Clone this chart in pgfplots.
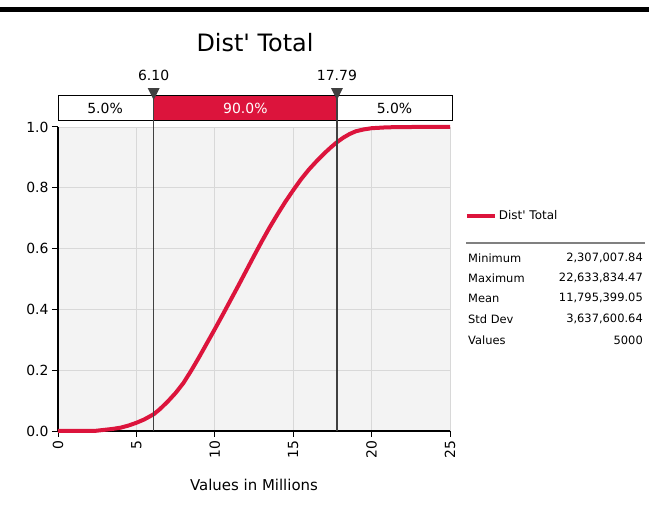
\documentclass[border=0pt]{standalone}
\usepackage{pgfplots}
\pgfplotsset{compat=1.18}
\usepackage{fontspec}
\setmainfont{DejaVu Sans}[Ligatures=TeXOff]
\definecolor{rred}{RGB}{220,20,60}
\definecolor{bgc}{HTML}{F3F3F3}
\definecolor{gridc}{HTML}{D8D8D8}
\definecolor{vline}{HTML}{404040}
\begin{document}
\begin{tikzpicture}[x=1bp,y=1bp]
\useasboundingbox (-58,-77) rectangle (591,431);
\fill[black] (-58,419) rectangle (591,423.5);
\node[font=\fontsize{24}{27}\selectfont] at (197,388) {Dist' Total};
\begin{axis}[
  at={(0,0)}, anchor=south west,
  scale only axis, width=392bp, height=304bp,
  xmin=0, xmax=25, ymin=0, ymax=1,
  axis background/.style={fill=bgc},
  grid=major, major grid style={gridc, line width=0.8pt},
  axis x line*=bottom, axis y line*=left,
  axis line style={black, line width=1.2pt},
  xtick={0,5,10,15,20,25}, ytick={0,0.2,0.4,0.6,0.8,1.0},
  yticklabel style={/pgf/number format/.cd,fixed,fixed zerofill,precision=1},
  tick align=outside, major tick length=6bp,
  tick style={black, line width=1pt},
  xticklabel style={rotate=90, anchor=east},
  /pgf/number format/assume math mode=true,
  tick label style={font=\fontsize{14}{16}\selectfont},
  xlabel={Values in Millions},
  xlabel style={font=\fontsize{15}{17}\selectfont, at={(rel axis cs:0.5,0)}, anchor=center, yshift=-54bp},
  clip=false,
  legend style={at={(rel axis cs:1.03,0.707)}, anchor=west, draw=none, fill=none, font=\fontsize{12}{14}\selectfont},
  legend image code/.code={\draw[rred, line width=4bp] (0,0) -- (28bp,0);},
]
\addplot[rred, line width=4bp, line join=round] coordinates {
(0,0) (2.3,0) (3,0.004) (3.5,0.007) (4,0.011) (4.5,0.018) (5,0.027) (5.5,0.038)
(6.1,0.055) (6.5,0.072) (7,0.097) (7.5,0.125) (8,0.158) (8.5,0.199) (9,0.243)
(9.5,0.289) (10,0.335) (10.5,0.382) (11,0.43) (11.5,0.478) (12,0.527)
(12.5,0.576) (13,0.624) (13.5,0.67) (14,0.713) (14.5,0.754) (15,0.792)
(15.5,0.828) (16,0.86) (16.5,0.888) (17,0.914) (17.4,0.933) (17.79,0.95)
(18.2,0.965) (18.6,0.977) (19,0.986) (19.5,0.992) (20,0.996) (21,0.999)
(22.6,1) (25,1)};
\addlegendentry{Dist' Total}
% band
\draw[black, fill=white, line width=1pt] (axis cs:0,1.023) rectangle (axis cs:25.13,1.102);
\fill[rred] (axis cs:6.10,1.023) rectangle (axis cs:17.79,1.102);
\draw[black, line width=1pt] (axis cs:0,1.023) rectangle (axis cs:25.13,1.102);
\draw[vline, line width=1.3pt] (axis cs:6.10,0) -- (axis cs:6.10,1.102);
\draw[vline, line width=1.3pt] (axis cs:17.79,0) -- (axis cs:17.79,1.102);
\fill[vline] (axis cs:5.72,1.128) -- (axis cs:6.48,1.128) -- (axis cs:6.10,1.089) -- cycle;
\fill[vline] (axis cs:17.41,1.128) -- (axis cs:18.17,1.128) -- (axis cs:17.79,1.089) -- cycle;
\node[font=\fontsize{14}{16}\selectfont] at (axis cs:6.10,1.171) {6.10};
\node[font=\fontsize{14}{16}\selectfont] at (axis cs:17.79,1.171) {17.79};
\node[font=\fontsize{14}{16}\selectfont] at (axis cs:3.0,1.0625) {5.0\%};
\node[font=\fontsize{14}{16}\selectfont, white] at (axis cs:11.95,1.0625) {90.0\%};
\node[font=\fontsize{14}{16}\selectfont] at (axis cs:21.46,1.0625) {5.0\%};
\end{axis}
\draw[gray, line width=1.5pt] (408,188) -- (587,188);
\begin{scope}[every node/.style={font=\fontsize{11.5}{13}\selectfont, inner sep=0pt}]
\node[anchor=west] at (410,173) {Minimum};
\node[anchor=west] at (410,153) {Maximum};
\node[anchor=west] at (410,133) {Mean};
\node[anchor=west] at (410,112) {Std Dev};
\node[anchor=west] at (410,91) {Values};
\node[anchor=east] at (585,173) {2,307,007.84};
\node[anchor=east] at (585,153) {22,633,834.47};
\node[anchor=east] at (585,133) {11,795,399.05};
\node[anchor=east] at (585,112) {3,637,600.64};
\node[anchor=east] at (585,91) {5000};
\end{scope}
\end{tikzpicture}
\end{document}
